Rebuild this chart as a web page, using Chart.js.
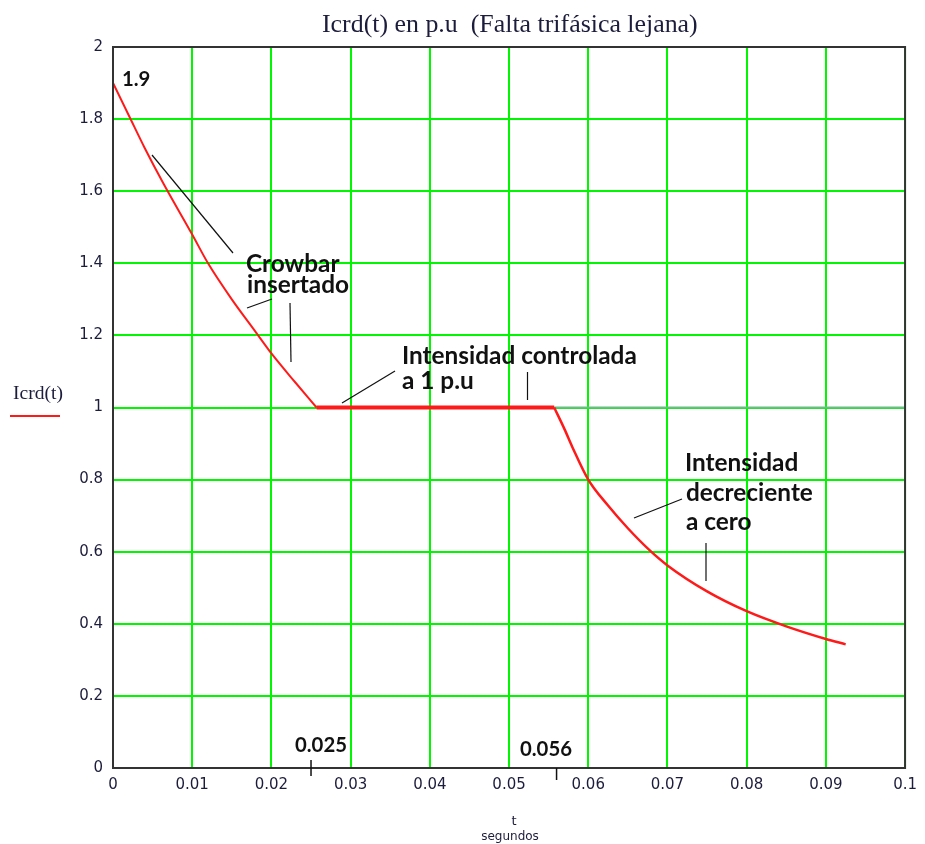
<!DOCTYPE html>
<html>
<head>
<meta charset="utf-8">
<script src="https://cdn.jsdelivr.net/npm/chart.js@4/dist/chart.umd.min.js"></script>
<style>
  body { margin: 0; background: #fff; }
  #wrap { width: 925px; height: 844px; position: relative; }
</style>
</head>
<body>
<div id="wrap"><canvas id="icrdChart"></canvas></div>
<script>
// Icrd(t): crowbar decay, controlled at 1 p.u, decay to zero
const tCrowbar = [0, 0.002, 0.004, 0.0064, 0.01, 0.012, 0.015, 0.018, 0.02, 0.023, 0.0257];
const iCrowbar = [1.9, 1.81, 1.72, 1.62, 1.48, 1.4, 1.3, 1.21, 1.15, 1.07, 1.0];
const tFlat = [0.0257, 0.0557];
const iFlat = [1.0, 1.0];
const tDecay = [0.0557, 0.057, 0.058, 0.06, 0.0625, 0.065, 0.0677, 0.07, 0.075, 0.08, 0.085, 0.09, 0.0925];
const iDecay = [1.0, 0.94, 0.89, 0.8, 0.728, 0.665, 0.605, 0.562, 0.49, 0.435, 0.393, 0.358, 0.343];
const markTimes = [0.025, 0.056];
const markLabels = ['0.025', '0.056'];

const pts = (xs, ys) => xs.map((x, i) => ({ x: x, y: ys[i] }));
const RED = '#ff1a1a';
const GRID = '#00f700';
const INK = '#1c1c3c';

function fitSize(ctx, text, weight, family, width) {
  ctx.font = weight + ' 20px ' + family;
  return 20 * width / ctx.measureText(text).width;
}

// title, border, annotations and hand-drawn legend
const decor = {
  id: 'decor',
  beforeDatasetsDraw(chart) {
    const { ctx, scales: { x, y } } = chart;
    ctx.save();
    ctx.strokeStyle = '#66c080';
    ctx.lineWidth = 2;
    ctx.beginPath();
    ctx.moveTo(x.getPixelForValue(tFlat[1]), y.getPixelForValue(1));
    ctx.lineTo(x.getPixelForValue(0.1), y.getPixelForValue(1));
    ctx.stroke();
    ctx.restore();
  },
  afterDraw(chart) {
    const { ctx, chartArea: a, scales: { x, y } } = chart;
    ctx.save();
    // frame
    ctx.strokeStyle = '#333';
    ctx.lineWidth = 2;
    ctx.strokeRect(a.left, a.top, a.right - a.left, a.bottom - a.top);

    // title
    const ts = fitSize(ctx, 'Icrd(t) en p.u  (Falta trifásica lejana)', 'normal', '"Liberation Serif"', 376);
    ctx.font = ts + 'px "Liberation Serif"';
    ctx.fillStyle = INK;
    ctx.textAlign = 'left';
    ctx.textBaseline = 'alphabetic';
    ctx.fillText('Icrd(t) en p.u  (Falta trifásica lejana)', 322, 32);

    // legend
    const ls = fitSize(ctx, 'Icrd(t)', 'normal', '"Liberation Serif"', 50);
    ctx.font = ls + 'px "Liberation Serif"';
    ctx.fillText('Icrd(t)', 13, 399);
    ctx.strokeStyle = RED;
    ctx.lineWidth = 2;
    ctx.beginPath();
    ctx.moveTo(10, 416); ctx.lineTo(60, 416);
    ctx.stroke();

    // axis caption
    ctx.font = '13px "DejaVu Sans"';
    ctx.textAlign = 'center';
    ctx.fillText('t', 514, 825);
    ctx.font = '12px "DejaVu Sans"';
    ctx.fillText('segundos', 510, 840);

    // annotations
    const as = fitSize(ctx, 'Intensidad controlada', 'bold', 'Lato', 235);
    ctx.font = 'bold ' + as + 'px Lato';
    ctx.textAlign = 'left';
    ctx.fillStyle = '#111';
    ctx.fillText('Crowbar', 246, 272);
    ctx.fillText('insertado', 247, 293);
    ctx.fillText('Intensidad controlada', 402, 364);
    ctx.fillText('a 1 p.u', 402, 389);
    ctx.fillText('Intensidad', 685, 471);
    ctx.fillText('decreciente', 686, 501);
    ctx.fillText('a cero', 686, 530);
    const ns = fitSize(ctx, '0.025', 'bold', 'Lato', 52);
    ctx.font = 'bold ' + ns + 'px Lato';
    ctx.fillText('1.9', 122, 86);
    ctx.fillText(markLabels[0], 295, 752);
    ctx.fillText(markLabels[1], 520, 756);

    // leader lines
    ctx.strokeStyle = '#111';
    ctx.lineWidth = 1.2;
    const seg = (x1, y1, x2, y2) => { ctx.beginPath(); ctx.moveTo(x1, y1); ctx.lineTo(x2, y2); ctx.stroke(); };
    seg(152, 155, 233, 253);
    seg(247, 308, 272, 299);
    seg(290, 303, 291, 362);
    seg(342, 403, 395, 371);
    seg(527.5, 372, 527.5, 400);
    seg(634, 518, 682, 499);
    seg(706, 543, 706, 581);
    // marks on the time axis
    ctx.lineWidth = 1.5;
    const m0 = x.getPixelForValue(markTimes[0]);
    const m1 = x.getPixelForValue(markTimes[1]);
    seg(m0, a.bottom - 8, m0, a.bottom + 8);
    seg(m1, a.bottom, m1, a.bottom + 12);
    ctx.restore();
  }
};

new Chart(document.getElementById('icrdChart'), {
  type: 'scatter',
  data: {
    datasets: [
      { label: 'Icrd(t)', data: pts(tCrowbar, iCrowbar), showLine: true, borderColor: RED, borderWidth: 2, pointRadius: 0, cubicInterpolationMode: 'monotone' },
      { label: 'Icrd(t) flat', data: pts(tFlat, iFlat), showLine: true, borderColor: RED, borderWidth: 4, pointRadius: 0 },
      { label: 'Icrd(t) decay', data: pts(tDecay, iDecay), showLine: true, borderColor: RED, borderWidth: 2.5, pointRadius: 0, cubicInterpolationMode: 'monotone' }
    ]
  },
  options: {
    responsive: true,
    maintainAspectRatio: false,
    animation: false,
    layout: { padding: { top: 47, right: 18, left: 0, bottom: 0 } },
    plugins: { legend: { display: false }, title: { display: false }, tooltip: { enabled: false } },
    scales: {
      x: {
        type: 'linear', min: 0, max: 0.1,
        afterFit: s => { s.height = 76; },
        grid: { color: GRID, lineWidth: 2, drawTicks: false },
        border: { display: false },
        ticks: {
          stepSize: 0.01, autoSkip: false, maxRotation: 0, padding: 8,
          color: INK, font: { family: '"DejaVu Sans"', size: 15 },
          callback: v => String(parseFloat(v.toFixed(2)))
        }
      },
      y: {
        min: 0, max: 2,
        afterFit: s => { s.width = 113; },
        grid: { color: GRID, lineWidth: 2, drawTicks: false },
        border: { display: false },
        ticks: {
          stepSize: 0.2, autoSkip: false, padding: 10,
          color: INK, font: { family: '"DejaVu Sans"', size: 15 },
          callback: v => String(parseFloat(v.toFixed(1)))
        }
      }
    }
  },
  plugins: [decor]
});
</script>
</body>
</html>
